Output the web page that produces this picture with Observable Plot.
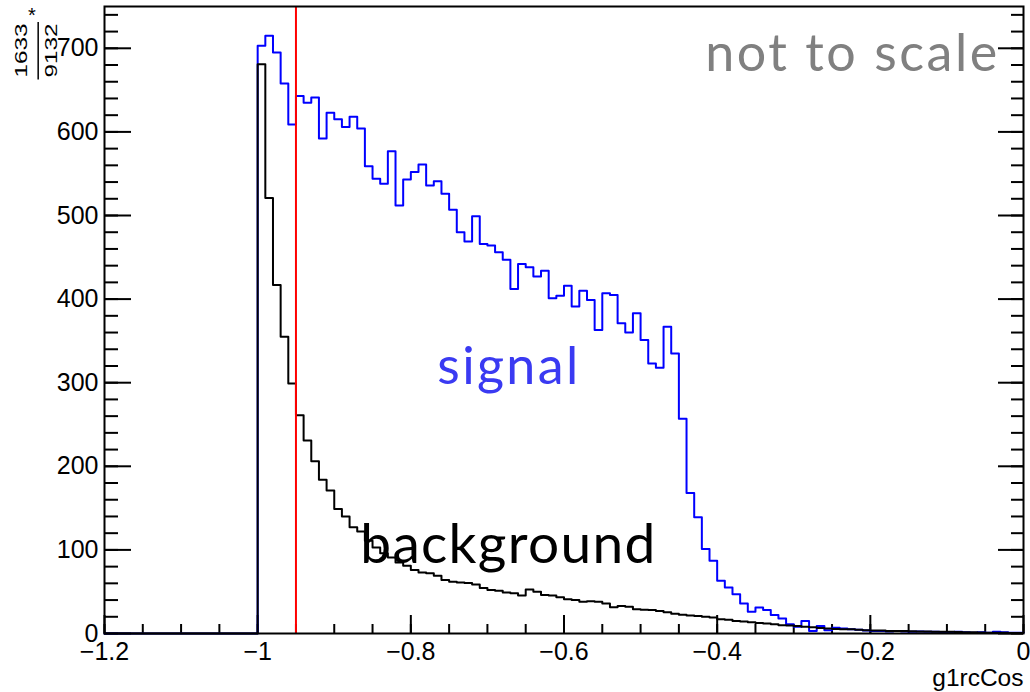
<!DOCTYPE html>
<html><head><meta charset="utf-8">
<script src="https://cdn.jsdelivr.net/npm/d3@7"></script>
<script src="https://cdn.jsdelivr.net/npm/@observablehq/plot@0.6"></script>
<style>html,body{margin:0;padding:0;background:#fff;}</style>
</head><body><div id="chart"></div>
<script>
// histogram: 120 bins of width 0.01 from -1.2 to 0
const binLow = -1.2;
const binWidth = 0.01;
const signal = [
  0,0,0,0,0,0,0,0,0,0, 0,0,0,0,0,0,0,0,0,0,
  703, 715, 695, 658, 609, 643, 635, 641, 592, 623,
  615, 606, 618, 604, 559, 544, 538, 577, 512, 543,
  552, 561, 536, 541, 526, 507, 480, 469, 499, 466,
  464, 456, 447, 412, 442, 438, 427, 434, 401, 404,
  416, 391, 410, 399, 363, 407, 405, 371, 360, 383,
  351, 323, 318, 367, 335, 257, 168, 139, 101, 87,
  63, 55, 47, 36, 26, 31, 28, 22, 18, 11,
  8, 15, 3, 9, 4, 7, 6, 5, 4.5, 3.5,
  3, 3, 2.5, 3, 2.5, 2, 2.5, 2, 2, 1.5,
  1.5, 2, 1.5, 1, 1.5, 1, 2, 1.5, 1, 1
];
const background = [
  0,0,0,0,0,0,0,0,0,0, 0,0,0,0,0,0,0,0,0,0,
  681, 521, 417, 355, 299, 261, 231, 206, 184, 171,
  149, 140, 127, 122, 111, 103, 96, 91, 85, 81,
  76, 73, 72, 69, 64, 62, 61, 60.5, 58.5, 54.5,
  52, 51, 49, 48, 45.5, 52.5, 50, 46, 45.5, 43.5,
  41, 40, 38, 38.5, 38, 36, 31.5, 33, 32, 29,
  28.5, 28, 27, 25.5, 23.5, 22.5, 21.5, 21, 20, 19,
  17, 16.5, 15, 14.5, 13.5, 12.5, 12, 11, 10, 9.5,
  9, 8, 7.5, 6.5, 6, 5.5, 5, 5, 4.5, 4,
  3.5, 3.5, 3, 3, 3, 2.8, 2.5, 2.5, 2.2, 2,
  2, 1.8, 1.5, 1.5, 1.2, 1, 1, 0.8, 0.5, 0.5
];
const xTicks = [-1.2, -1, -0.8, -0.6, -0.4, -0.2, 0];
const yTicks = [0, 100, 200, 300, 400, 500, 600, 700];
const xMinorTicks = d3.range(-1.2, 0.001, 0.05);
const yMinorTicks = d3.range(0, 750, 20);
const cutValue = -0.95;
const xTitle = "g1rcCos";
const yTitleNum = "1633", yTitleDen = "9132";

const steps = vals => vals.map((v, i) => ({x: binLow + i * binWidth, y: v}))
  .concat([{x: binLow + vals.length * binWidth, y: vals[vals.length - 1]}]);

const W = 1030, H = 692, mL = 104, mR = 7, mT = 6, mB = 59;
const pw = W - mL - mR, ph = H - mT - mB;
const calib = "Lato, 'Open Sans', sans-serif";

const chart = Plot.plot({
  width: W, height: H,
  marginLeft: mL, marginRight: mR, marginTop: mT, marginBottom: mB,
  style: {fontFamily: "'Liberation Sans', Arial, sans-serif", fontSize: "25px", background: "#fff", color: "#000"},
  x: {domain: [-1.2, 0]},
  y: {domain: [0, 750]},
  marks: [
    Plot.axisY({ticks: yTicks, tickSize: 0, tickPadding: 6, label: null, fontSize: 25}),
    Plot.axisX({ticks: xTicks, tickSize: 0, tickPadding: 9, label: null, fontSize: 25, tickFormat: d3.format("")}),
    // inward ticks (ROOT style)
    Plot.tickY(yTicks, {y: d => d, insetRight: pw - 27, stroke: "#000", strokeWidth: 2}),
    Plot.tickY(yMinorTicks, {y: d => d, insetRight: pw - 14, stroke: "#000", strokeWidth: 2}),
    Plot.tickY(yTicks, {y: d => d, insetLeft: pw - 25, stroke: "#000", strokeWidth: 2}),
    Plot.tickY(yMinorTicks, {y: d => d, insetLeft: pw - 12, stroke: "#000", strokeWidth: 2}),
    Plot.tickX(xTicks, {x: d => d, insetTop: ph - 18, stroke: "#000", strokeWidth: 2}),
    Plot.tickX(xMinorTicks, {x: d => d, insetTop: ph - 9, stroke: "#000", strokeWidth: 2}),
    Plot.line(steps(signal), {x: "x", y: "y", curve: "step-after", stroke: "#0000ff", strokeWidth: 2}),
    Plot.line(steps(background), {x: "x", y: "y", curve: "step-after", stroke: "#000", strokeWidth: 2}),
    Plot.ruleX([cutValue], {stroke: "#ff0000", strokeWidth: 2}),
    Plot.frame({stroke: "#000", strokeWidth: 2}),
    // annotations
    Plot.text(["not to scale"], {x: -0.4156, y: 673, text: d => d, textAnchor: "start", lineAnchor: "bottom", fill: "#808080", fontSize: 52, fontFamily: calib}),
    Plot.text(["signal"], {x: -0.7655, y: 298, text: d => d, textAnchor: "start", lineAnchor: "bottom", fill: "#3a3af2", fontSize: 52, fontFamily: calib}),
    Plot.text(["background"], {x: -0.866, y: 84, text: d => d, textAnchor: "start", lineAnchor: "bottom", fill: "#000", fontSize: 55, fontFamily: calib}),
    // axis titles
    Plot.text([xTitle], {frameAnchor: "bottom-right", dy: 52, text: d => d, textAnchor: "end", lineAnchor: "bottom", fontSize: 24.5}),
    Plot.text([yTitleNum], {frameAnchor: "top-left", dx: -77.5, dy: 44, rotate: -90, text: d => d, textAnchor: "middle", lineAnchor: "bottom", fontSize: 17}),
    Plot.text([yTitleDen], {frameAnchor: "top-left", dx: -48, dy: 44, rotate: -90, text: d => d, textAnchor: "middle", lineAnchor: "bottom", fontSize: 17}),
    Plot.text(["*"], {frameAnchor: "top-left", dx: -72.5, dy: 1, text: d => d, textAnchor: "middle", lineAnchor: "top", fontSize: 20}),
    Plot.ruleX([-1.2866], {y1: 662, y2: 731, stroke: "#000", strokeWidth: 1.5})
  ]
});
// match the reference text widths
const widths = {"not to scale": [292, "spacing"], "signal": [141, "spacing"], "background": [295, "spacing"],
                "1633": [54, "spacingAndGlyphs"], "9132": [54, "spacingAndGlyphs"]};
d3.select(chart).selectAll("text").each(function () {
  const w = widths[this.textContent];
  if (w) { this.setAttribute("textLength", w[0]); this.setAttribute("lengthAdjust", w[1]); }
});
document.getElementById("chart").appendChild(chart);
</script>
</body></html>
